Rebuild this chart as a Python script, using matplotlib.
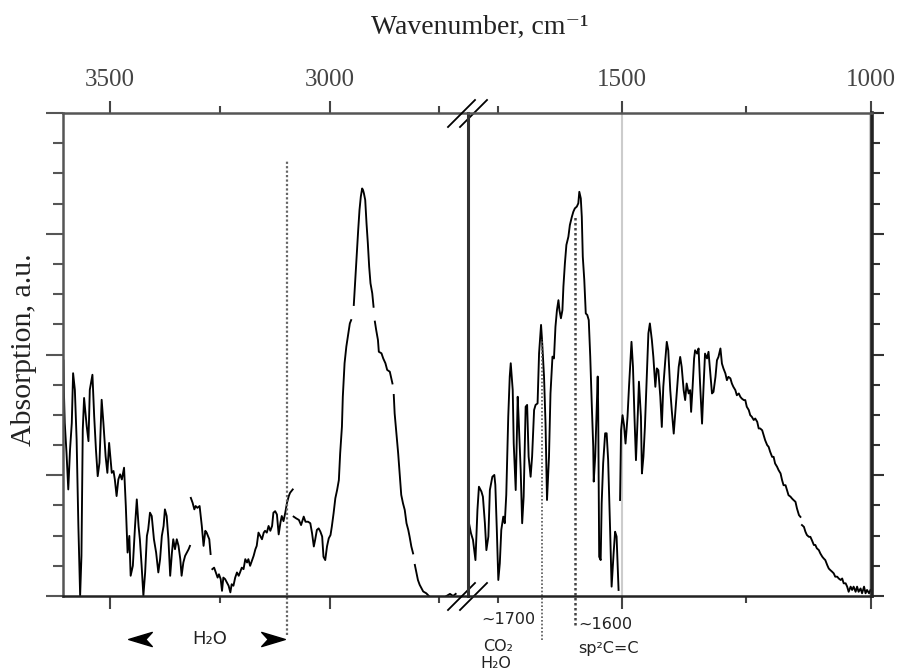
import numpy as np
import matplotlib
matplotlib.use("Agg")
import matplotlib.pyplot as plt
from matplotlib.path import Path
from matplotlib.ticker import MultipleLocator

nan = np.nan

# ---- Datos (número de onda en cm-1, absorción en u.a.) ----
# Tramo de alta frecuencia (3600 - 2700 cm-1); nan = hueco en el espectro
left_wn = [3606, 3605, 3603, 3599, 3595, 3591, 3587, 3584, 3580, 3576,
           3572, 3568, 3565, 3562, 3559, 3553, 3549, 3546, 3540, 3536,
           3532, 3528, 3524, 3519, 3515, 3510, 3506, 3502, 3496, 3492,
           3489, 3485, 3481, 3477, 3473, 3468, 3464, 3460, 3456, 3453,
           3448, 3443, 3439, 3435, 3432, 3428, 3424, 3420, 3416, 3413,
           3409, 3405, 3400, 3395, 3390, 3386, 3382, 3378, 3375, 3371,
           3367, 3363, 3359, 3356, 3352, 3348, 3344, 3340, 3337, 3333,
           3329, 3325, 3321, 3318, nan,
           3316, 3312, 3308, 3305, 3301, 3296, 3291, 3287, 3283, 3280, 3274, 3271, nan,
           3267, 3263, 3259, 3255, 3252, 3248, 3245, 3242, 3238, 3234,
           3230, 3226, 3223, 3219, 3215, 3211, 3207, 3204, 3200, 3196,
           3192, 3188, 3185, 3181, 3177, 3173, 3169, 3166, 3162, 3158,
           3154, 3150, 3147, 3143, 3139, 3135, 3131, 3128, 3124, 3120,
           3116, 3112, 3109, 3105, 3101, 3097, 3093, 3090, 3084, nan,
           3082, 3076, 3070, 3065, 3059, 3055, 3049, 3044, 3040, 3036,
           3033, 3029, 3025, 3021, 3017, 3014, 3010, 3006, 3002, 2998,
           2995, 2991, 2987, 2983, 2979, 2976, 2972, 2970, 2966, 2962,
           2958, 2954, 2951, nan,
           2945, 2943, 2939, 2935, 2932, 2929, 2926, 2924, 2922, 2919,
           2916, 2913, 2910, 2907, 2903, 2900, nan,
           2897, 2894, 2890, 2888, 2882, 2878, 2873, 2869, 2863, 2857, nan,
           2854, 2852, 2848, 2844, 2840, 2837, 2833, 2829, 2825, 2821, 2818, 2814, 2810, nan,
           2806, 2802, 2799, 2795, 2791, 2787, 2780, 2774, nan,
           2734, 2726, 2719, 2713]
left_ab = [7.8, 6.8, 5.73, 4.74, 3.53, 4.85, 5.73, 7.38, 6.83, 5.18,
           2.32, 0.01, 1.33, 5.51, 6.56, 5.62, 5.13, 6.83, 7.33, 5.95,
           4.85, 3.97, 4.41, 6.50, 5.73, 4.63, 4.08, 5.07, 4.08, 4.14,
           3.86, 3.31, 3.86, 4.03, 3.86, 4.25, 2.98, 1.44, 1.99, 0.67,
           1.00, 2.32, 3.20, 2.32, 1.88, 1.00, 0.01, 0.78, 1.99, 2.21,
           2.76, 2.65, 1.88, 1.44, 0.78, 1.22, 1.99, 2.32, 2.87, 2.65,
           1.88, 0.67, 1.44, 1.88, 1.55, 1.88, 1.66, 1.22, 0.67, 1.11,
           1.33, 1.44, 1.55, 1.66, nan,
           3.25, 3.09, 2.87, 2.98, 2.92, 2.98, 2.32, 1.66, 2.16, 2.10, 1.88, 1.39, nan,
           0.89, 0.94, 0.78, 0.61, 0.72, 0.56, 0.17, 0.61, 0.56, 0.45,
           0.34, 0.12, 0.39, 0.34, 0.61, 0.78, 0.67, 0.78, 0.94, 0.89,
           1.22, 1.11, 1.22, 1.00, 1.17, 1.33, 1.55, 1.66, 2.10, 1.99,
           1.88, 2.10, 2.16, 2.10, 2.32, 2.16, 2.32, 2.76, 2.81, 2.70,
           2.04, 2.43, 2.65, 2.48, 2.76, 3.09, 3.31, 3.42, 3.53, nan,
           2.63, 2.57, 2.52, 2.35, 2.63, 2.46, 2.46, 2.41, 2.08, 1.64,
           1.86, 2.19, 2.24, 2.13, 1.97, 1.30, 1.19, 1.64, 1.91, 2.02,
           2.30, 2.74, 3.24, 3.51, 3.84, 4.73, 5.61, 6.60, 7.71, 8.26,
           8.65, 9.03, 9.14, nan,
           9.64, 10.14, 11.13, 12.12, 12.79, 13.23, 13.50, 13.45, 13.34, 13.12,
           12.34, 11.68, 10.91, 10.36, 10.03, 9.58, nan,
           9.09, 8.81, 8.48, 8.09, 8.04, 7.87, 7.71, 7.49, 7.43, 7.04, nan,
           6.66, 6.05, 5.39, 4.73, 3.95, 3.35, 3.07, 2.85, 2.41, 2.19, 1.97, 1.64, 1.41, nan,
           1.03, 0.75, 0.53, 0.37, 0.26, 0.15, 0.09, 0.00, nan,
           0.00, 0.07, 0.00, 0.07]

# Tramo de baja frecuencia (1800 - 1000 cm-1)
right_wn = [1808, 1804, 1800, 1795, 1791, 1788, 1783, 1780, 1776, 1773,
            1769, 1766, 1761, 1757, 1755, 1752, 1749, 1746, 1743, 1739,
            1736, 1733, 1729, 1726, 1724, 1720, 1718, 1714, 1712, 1710,
            1708, 1704, 1701, 1698, 1694, 1691, 1688, 1684, 1681, 1677,
            1674, 1670, 1667, 1663, 1661, 1657, 1654, 1651, 1647, 1644,
            1640, 1637, 1634, 1631, 1628, 1626, 1623, 1620, 1618, 1615,
            1612, 1608, 1605, 1601, 1598, 1595, 1591, 1588, 1586, 1583,
            1581, 1579, 1576, 1573, 1570, 1567, 1564, 1561, 1558, 1557,
            1554, 1551, 1549, 1548, 1546, 1543, 1541, 1538, 1534, 1531,
            1528, 1524, 1521, 1517, 1514, 1511, 1507, nan,
            1504, 1502, 1499, 1496, 1493, 1489, 1486, 1483, 1481, 1478,
            1475, 1472, 1468, 1466, 1462, 1460, 1457, 1454, 1450, 1447,
            1444, 1440, 1437, 1433, 1430, 1427, 1423, 1420, 1417, 1413,
            1410, 1407, 1403, 1400, 1396, 1393, 1390, 1386, 1383, 1380,
            1376, 1373, 1370, 1366, 1363, 1361, 1358, 1355, 1353, 1349,
            1346, 1343, 1339, 1336, 1333, 1329, 1326, 1323, 1319, 1316,
            1312, 1309, 1306, 1302, 1299, 1296, 1292, 1289, 1286, 1282,
            1279, 1276, 1272, 1269, 1265, 1262, 1259, 1255, 1252, 1249,
            1245, 1242, 1239, 1235, 1232, 1228, 1225, 1222, 1218, 1215,
            1212, 1208, 1205, 1202, 1198, 1195, 1192, 1188, 1185, 1181,
            1178, 1175, 1171, 1168, 1165, 1161, 1158, 1155, 1151, 1148,
            1144, 1141, nan,
            1138, 1134, 1131, 1128, 1124, 1121, 1118, 1114, 1111, 1108,
            1104, 1101, 1097, 1094, 1091, 1087, 1084, 1081, 1077, 1074,
            1071, 1067, 1064, 1060, 1057, 1054, 1050, 1047, 1044, 1040,
            1037, 1034, 1030, 1027, 1024, 1020, 1017, 1013, 1010, 1007,
            1003, 1000]
right_ab = [2.41, 2.08, 1.86, 1.19, 2.85, 3.62, 3.46, 3.29, 2.41, 1.52,
            1.97, 3.51, 3.95, 4.01, 3.68, 2.19, 0.53, 1.08, 2.19, 2.63,
            2.41, 3.35, 5.94, 7.27, 7.71, 6.82, 5.06, 3.51, 5.06, 6.60,
            5.83, 4.17, 2.41, 3.29, 6.27, 6.33, 4.62, 3.95, 4.62, 6.16,
            6.33, 6.38, 8.04, 8.98, 8.48, 7.27, 5.72, 3.18, 4.62, 6.71,
            7.93, 7.87, 8.92, 9.47, 9.80, 9.47, 9.20, 9.47, 10.25, 11.02,
            11.63, 11.90, 12.29, 12.56, 12.73, 12.84, 12.90, 13.01, 13.39, 13.17,
            12.56, 11.24, 10.47, 9.36, 9.31, 9.14, 7.93, 6.38, 4.95, 3.79,
            4.62, 6.16, 7.27, 6.16, 1.30, 1.19, 3.07, 4.40, 5.39, 5.39,
            4.51, 2.19, 0.31, 1.41, 2.13, 1.97, 0.20, nan,
            3.18, 5.49, 5.99, 5.66, 5.05, 5.94, 6.93, 7.81, 8.42, 7.59,
            5.94, 4.50, 6.16, 7.10, 5.94, 4.06, 4.61, 5.60, 7.37, 8.70,
            9.03, 8.48, 7.92, 6.93, 7.54, 7.48, 6.60, 5.60, 6.93, 7.81,
            8.42, 8.14, 6.82, 6.16, 5.38, 6.05, 6.71, 7.59, 7.92, 7.59,
            6.82, 6.49, 7.04, 6.71, 6.82, 6.10, 6.93, 7.87, 8.14, 8.03,
            8.20, 7.04, 5.71, 6.93, 8.03, 7.87, 8.09, 7.48, 6.71, 6.76,
            7.26, 7.81, 7.92, 8.20, 7.70, 7.54, 7.37, 7.15, 7.26, 7.21,
            7.04, 6.93, 6.82, 6.65, 6.71, 6.60, 6.54, 6.49, 6.49, 6.27,
            6.16, 5.99, 5.94, 5.83, 5.88, 5.77, 5.55, 5.55, 5.49, 5.33,
            5.16, 5.00, 4.94, 4.78, 4.61, 4.61, 4.39, 4.28, 4.17, 4.06,
            3.84, 3.67, 3.67, 3.51, 3.34, 3.29, 3.23, 3.18, 3.12, 2.90,
            2.68, 2.62, nan,
            2.35, 2.29, 2.13, 2.02, 1.96, 1.96, 1.85, 1.69, 1.69, 1.58,
            1.52, 1.41, 1.30, 1.24, 1.19, 1.02, 0.91, 0.86, 0.80, 0.75,
            0.64, 0.64, 0.58, 0.53, 0.58, 0.42, 0.42, 0.31, 0.14, 0.31,
            0.20, 0.31, 0.14, 0.31, 0.14, 0.25, 0.09, 0.31, 0.09, 0.20,
            0.09, 0.20]

# Marcadores de bandas (cm-1)
h2o_band = 3098
co2_band = 1662
csp2_band = 1595

W, H = 901, 670
serif = ['Liberation Serif', 'DejaVu Serif']
sans = ['DejaVu Sans']

fig = plt.figure(figsize=(W / 100, H / 100), dpi=100)
ax1 = fig.add_axes([63 / W, 1 - 596 / H, 405 / W, 483 / H])
ax2 = fig.add_axes([468 / W, 1 - 596 / H, 404 / W, 483 / H])

ax1.set_xlim(3607, 2685)
ax2.set_xlim(1810, 997)
for ax in (ax1, ax2):
    ax.set_ylim(0, 16)
    ax.xaxis.set_major_locator(MultipleLocator(500))
    ax.xaxis.set_minor_locator(MultipleLocator(250))
    ax.yaxis.set_major_locator(MultipleLocator(4))
    ax.yaxis.set_minor_locator(MultipleLocator(1))
    ax.tick_params(axis='x', which='both', direction='out', top=True, bottom=True,
                   labeltop=True, labelbottom=False, color='#444', width=1.5)
    ax.tick_params(axis='x', which='major', length=9, pad=7, labelsize=18, labelcolor='#444')
    ax.tick_params(axis='x', which='minor', length=5)
    for lab in ax.get_xticklabels():
        lab.set_family(serif)

# espectro
ax1.plot(left_wn, left_ab, color='k', lw=1.35)
ax2.plot(right_wn, right_ab, color='k', lw=1.35)

# ejes (estilo)
ax1.spines['right'].set_visible(False)
for s in ('left', 'top', 'bottom'):
    ax1.spines[s].set_color('#555')
    ax1.spines[s].set_linewidth(1.8)
ax1.spines['bottom'].set_color('#222')
ax1.tick_params(axis='y', which='both', direction='out', left=True, right=False,
                labelleft=False, color='#555', width=1.5)
ax1.tick_params(axis='y', which='major', length=12)
ax1.tick_params(axis='y', which='minor', length=7)

ax2.spines['left'].set_color('#333')
ax2.spines['left'].set_linewidth(2.2)
ax2.spines['right'].set_color('#222')
ax2.spines['right'].set_linewidth(2.6)
ax2.spines['top'].set_color('#555')
ax2.spines['top'].set_linewidth(1.8)
ax2.spines['bottom'].set_color('#222')
ax2.spines['bottom'].set_linewidth(1.8)
ax2.tick_params(axis='y', which='both', direction='out', left=False, right=True,
                labelleft=False, labelright=False, color='#333', width=1.5)
ax2.tick_params(axis='y', which='major', length=8.5)
ax2.tick_params(axis='y', which='minor', length=5.5)

# líneas guía
ax2.axvline(1500, color='#cccccc', lw=1.5, zorder=0)
ax2.axvline(1001, color='#cccccc', lw=1.5, zorder=0)
ax1.plot([h2o_band, h2o_band], [-1.3, 14.4], ls=(0, (1, 1)), color='#666', lw=1.6, clip_on=False)
ax2.plot([co2_band, co2_band], [-1.45, 8.5], ls=(0, (1, 1.2)), color='#555', lw=1.2, clip_on=False)
ax2.plot([csp2_band, csp2_band], [-0.95, 12.55], ls=(0, (1, 1)), color='#444', lw=1.8, clip_on=False)

# marcas de corte del eje
for y0 in (0, 1):
    for x_off in (-20, -8):
        ax2.plot([x_off / 404, (x_off + 27) / 404], [y0 - 14 / 483, y0 + 13 / 483],
                 transform=ax2.transAxes, color='k', lw=1.3, clip_on=False)

# flechas de la banda del agua (punta con muesca)
head_r = Path([(-1, 0.6), (1, 0), (-1, -0.6), (-0.45, 0), (-1, 0.6)],
              [Path.MOVETO, Path.LINETO, Path.LINETO, Path.LINETO, Path.CLOSEPOLY])
head_l = Path([(1, 0.6), (-1, 0), (1, -0.6), (0.45, 0), (1, 0.6)],
              [Path.MOVETO, Path.LINETO, Path.LINETO, Path.LINETO, Path.CLOSEPOLY])
ax1.plot([3432], [-1.42], marker=head_l, markersize=17, color='k', clip_on=False)
ax1.plot([3128], [-1.42], marker=head_r, markersize=17, color='k', clip_on=False)
ax1.text(3272, -1.42, 'H₂O', ha='center', va='center', fontsize=13, family=sans, color='#222')

ax2.text(1728, -0.79, '~1700', ha='center', va='center', fontsize=11.5, family=sans, color='#222')
ax2.text(1750, -1.66, 'CO₂', ha='center', va='center', fontsize=11.5, family=sans, color='#222')
ax2.text(1754, -2.25, 'H₂O', ha='center', va='center', fontsize=11.5, family=sans, color='#222')
ax2.text(1589, -0.96, '~1600', ha='left', va='center', fontsize=11.5, family=sans, color='#222')
ax2.text(1589, -1.75, 'sp²C=C', ha='left', va='center', fontsize=11.5, family=sans, color='#222')

fig.text(480 / W, 1 - 27 / H, 'Wavenumber, cm⁻¹', ha='center', va='center',
         fontsize=20, family=serif, color='#222')
fig.text(24 / W, 1 - 350 / H, 'Absorption, a.u.', rotation=90, ha='center', va='center',
         fontsize=21.5, family=serif, color='#222')

fig.savefig('out.png', dpi=100)
